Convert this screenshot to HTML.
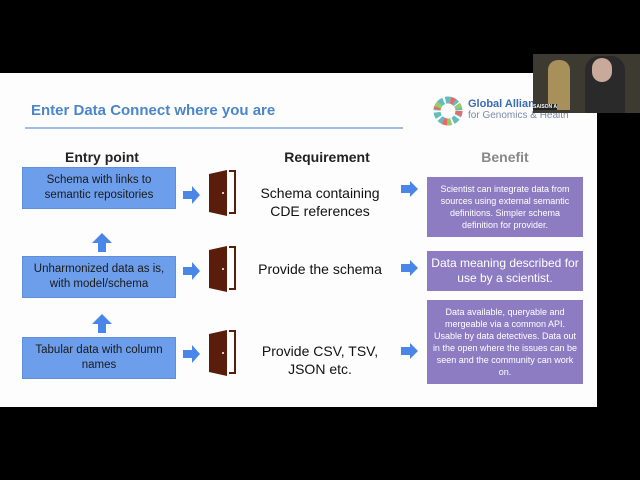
<!DOCTYPE html>
<html><head><style>
body{margin:0;width:640px;height:480px;background:#000;position:relative;overflow:hidden;font-family:"Liberation Sans",sans-serif}
.a{position:absolute}
.slide{left:0;top:73px;width:597px;height:334px;background:#fdfdfd}
.bx{background:#6d9eeb;color:#1a1a1a;font-size:11.5px;text-align:center;display:flex;align-items:center;justify-content:center;line-height:15px;box-sizing:border-box;border:1px solid #5f8fd8}
.pb{background:#8e7cc3;color:#fff;text-align:center;display:flex;align-items:center;justify-content:center;box-sizing:border-box;padding:0 4px}
.hd{font-size:14px;font-weight:bold;text-align:center}
.rq{font-size:14px;text-align:center;color:#111;line-height:18px}
</style></head><body>
<div class="a slide"></div>
<div class="a" style="left:31px;top:102px;font-size:15px;font-weight:bold;color:#4a86c8">Enter Data Connect where you are</div>
<div class="a" style="left:25px;top:127px;width:378px;height:2px;background:#9fbde3"></div>
<svg class="a" style="left:432px;top:95px" width="32" height="32" viewBox="0 0 32 32"><circle cx="16" cy="16" r="11" fill="none" stroke="#6bb" stroke-width="7" stroke-dasharray="5 2"/><circle cx="16" cy="16" r="11" fill="none" stroke="#e66" stroke-width="7" stroke-dasharray="4 14"/><circle cx="16" cy="16" r="11" fill="none" stroke="#9c6" stroke-width="7" stroke-dasharray="4 20" stroke-dashoffset="10"/></svg>
<div class="a" style="left:468px;top:98px;font-size:11px;color:#3a6db0;font-weight:bold">Global Alliance</div>
<div class="a" style="left:468px;top:110px;font-size:10px;color:#7a8aa8">for Genomics &amp; Health</div>
<div class="a" style="left:533px;top:54px;width:107px;height:59px;background:#3d3a32"></div>
<div class="a" style="left:548px;top:60px;width:22px;height:50px;background:#a8905a;border-radius:10px 10px 0 0"></div>
<div class="a" style="left:585px;top:56px;width:40px;height:57px;background:#2a2a2a;border-radius:14px 14px 0 0"></div>
<div class="a" style="left:592px;top:58px;width:20px;height:24px;background:#c9a99a;border-radius:10px"></div>
<div class="a" style="left:533px;top:104px;font-size:5px;color:#fff;font-weight:bold;background:#222">SAISON A</div>

<div class="a hd" style="left:22px;top:149px;width:160px;color:#222">Entry point</div>
<div class="a hd" style="left:247px;top:149px;width:160px;color:#222">Requirement</div>
<div class="a hd" style="left:425px;top:149px;width:160px;color:#888">Benefit</div>

<div class="a bx" style="left:22px;top:167px;width:154px;height:42px">Schema with links to<br>semantic repositories</div>
<div class="a bx" style="left:22px;top:256px;width:154px;height:42px">Unharmonized data as is,<br>with model/schema</div>
<div class="a bx" style="left:22px;top:337px;width:154px;height:42px">Tabular data with column<br>names</div>

<svg class="a" style="left:0;top:0" width="640" height="480">
<g fill="#4a86e8">
<polygon points="92,243 102,233 112,243 106,243 106,252 98,252 98,243"/>
<polygon points="92,324 102,314 112,324 106,324 106,333 98,333 98,324"/>
<polygon points="183,191 192,191 192,186 200,195 192,204 192,199 183,199"/>
<polygon points="183,267 192,267 192,262 200,271 192,280 192,275 183,275"/>
<polygon points="183,350 192,350 192,345 200,354 192,363 192,358 183,358"/>
<polygon points="401,185 410,185 410,181 418,189 410,197 410,193 401,193"/>
<polygon points="401,264 410,264 410,260 418,268 410,276 410,272 401,272"/>
<polygon points="401,347 410,347 410,343 418,351 410,359 410,355 401,355"/>
</g>
<g fill="#5a1d0c">
<polygon points="209,174 227,170 227,216 209,212"/>
<polygon points="209,250 227,246 227,292 209,288"/>
<polygon points="209,334 227,330 227,376 209,372"/>
</g>
<g fill="none" stroke="#5a1d0c" stroke-width="2">
<polyline points="229,171 235,171 235,213 229,213"/>
<polyline points="229,247 235,247 235,289 229,289"/>
<polyline points="229,331 235,331 235,373 229,373"/>
</g>
<g fill="#fff"><circle cx="223" cy="193" r="1"/><circle cx="223" cy="269" r="1"/><circle cx="223" cy="353" r="1"/></g>
</svg>

<div class="a rq" style="left:240px;top:184px;width:160px">Schema containing<br>CDE references</div>
<div class="a rq" style="left:240px;top:260px;width:160px">Provide the schema</div>
<div class="a rq" style="left:240px;top:342px;width:160px">Provide CSV, TSV,<br>JSON etc.</div>

<div class="a pb" style="left:427px;top:177px;width:156px;height:60px;font-size:9px;line-height:12px">Scientist can integrate data from sources using external semantic definitions. Simpler schema definition for provider.</div>
<div class="a pb" style="left:427px;top:251px;width:156px;height:40px;font-size:12px;line-height:15px">Data meaning described for use by a scientist.</div>
<div class="a pb" style="left:427px;top:300px;width:156px;height:84px;font-size:9px;line-height:12px">Data available, queryable and mergeable via a common API. Usable by data detectives. Data out in the open where the issues can be seen and the community can work on.</div>
</body></html>
